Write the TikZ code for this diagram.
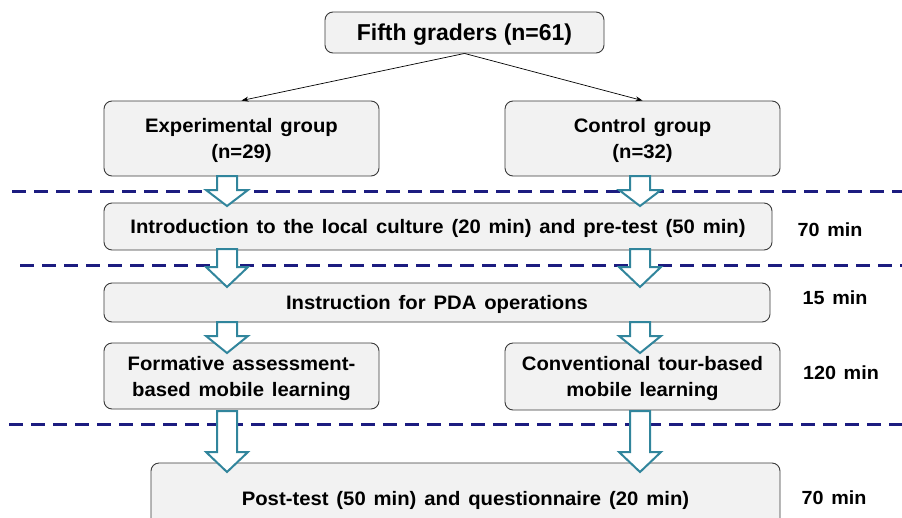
\documentclass[tikz,border=0pt]{standalone}
\usepackage{fontspec}
\setmainfont{Liberation Sans}[FakeStretch=1.04,WordSpace=1.4]
\newfontfamily\topfont{Liberation Sans}
\usetikzlibrary{arrows.meta}
\definecolor{boxfill}{HTML}{F2F2F2}
\definecolor{boxline}{HTML}{3A3A3A}
\definecolor{dashblue}{RGB}{28,28,128}
\definecolor{teal}{HTML}{31859C}
\tikzset{
  box/.style={draw=boxline, line width=0.9pt, fill=boxfill, rounded corners=8pt,
    align=center, inner sep=0pt, text depth=0pt, font=\bfseries\fontsize{19.5}{26}\selectfont},
  topbox/.style={box, font=\topfont\bfseries\fontsize{23}{28}\selectfont},
  timelbl/.style={font=\bfseries\fontsize{19}{24}\selectfont, inner sep=0pt},
  sepline/.style={draw=dashblue, line width=3pt, dash pattern=on 14pt off 8pt},
  thinarrow/.style={draw=black, line width=0.7pt, -{Stealth[length=7pt,width=5pt]}},
  barrow/.style={draw=teal, line width=2pt, fill=white, line join=miter},
}
\newcommand\blockarrow[4]{%
  \draw[barrow] (#1-10,#2) -- (#1+10,#2) -- (#1+10,#3) -- (#1+21,#3) -- (#1,#4)
    -- (#1-21,#3) -- (#1-10,#3) -- cycle;}
\begin{document}
\begin{tikzpicture}[x=1pt,y=-1pt]
\useasboundingbox (0,0) rectangle (902,517);
\clip (0,0) rectangle (902,517);
% separators
\coordinate (s1a) at (12,191); \coordinate (s1b) at (902,191);
\coordinate (s2a) at (20,265); \coordinate (s2b) at (902,265);
\coordinate (s3a) at (9,424); \coordinate (s3b) at (902,424);
\draw[sepline] (s1a) -- (s1b);
\draw[sepline] (s2a) -- (s2b);
\draw[sepline] (s3a) -- (s3b);
% boxes
\node[topbox, minimum width=279, minimum height=41] (top) at (464.5,32.5) {Fifth graders (n=61)};
\node[box, minimum width=275, minimum height=75] (exp) at (241.5,138.5) {Experimental group\\(n=29)};
\node[box, minimum width=275, minimum height=75] (ctrl) at (642.5,138.5) {Control group\\(n=32)};
\node[box, minimum width=668, minimum height=47] (intro) at (438,226.5) {Introduction to the local culture (20 min) and pre-test (50 min)};
\node[box, minimum width=666, minimum height=39] (pda) at (437,302.5) {Instruction for PDA operations};
\node[box, minimum width=275, minimum height=66] (form) at (241.5,376) {Formative assessment-\\based mobile learning};
\node[box, minimum width=275, minimum height=67] (conv) at (642.5,376.5) {Conventional tour-based\\mobile learning};
\node[box, minimum width=629, minimum height=70] (post) at (465.5,498) {Post-test (50 min) and questionnaire (20 min)};
% time labels
\node[timelbl] (t1) at (830,230) {70 min};
\node[timelbl] (t2) at (835,298) {15 min};
\node[timelbl] (t3) at (841,373) {120 min};
\node[timelbl] (t4) at (834,498) {70 min};
% thin arrows
\draw[thinarrow] (top.south) -- (exp.north);
\draw[thinarrow] (top.south) -- (ctrl.north);
% block arrows
\blockarrow{227}{176}{190}{206}
\blockarrow{640}{176}{190}{206}
\blockarrow{227}{249}{267}{287}
\blockarrow{640}{249}{267}{287}
\blockarrow{227}{322}{336}{353}
\blockarrow{640}{322}{336}{353}
\blockarrow{227}{411}{452}{472}
\blockarrow{640}{411}{452}{472}
\end{tikzpicture}
\end{document}
